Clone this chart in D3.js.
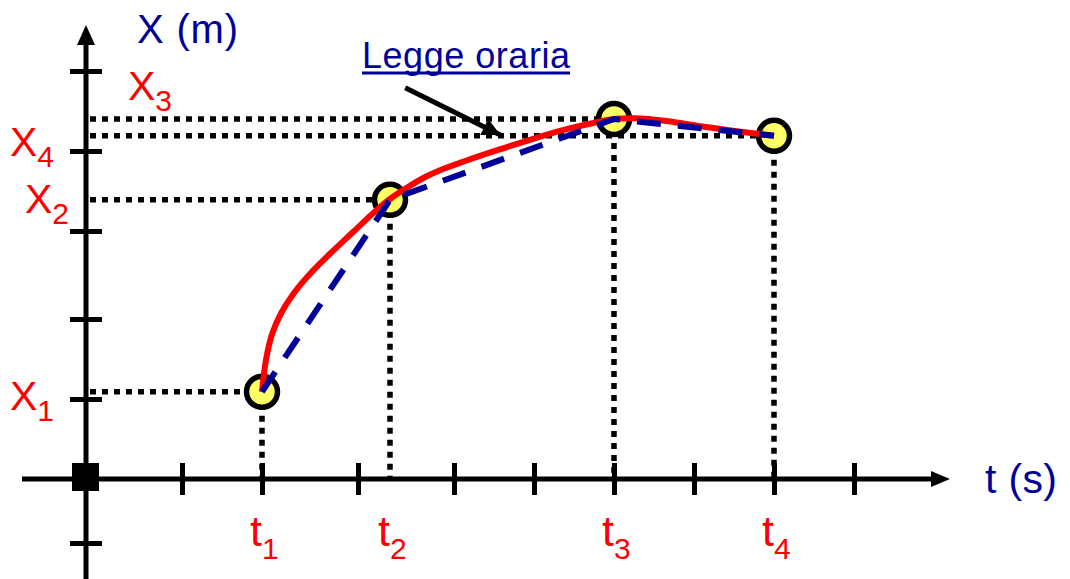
<!DOCTYPE html>
<html>
<head>
<meta charset="utf-8">
<script src="https://cdn.jsdelivr.net/npm/d3@7"></script>
<style>
  html, body { margin: 0; padding: 0; background: #fff; }
  svg { display: block; }
</style>
</head>
<body>
<script>
// 数据（时间单位 / 位置单位均为图上读出的估计值）
const xTicks = [12, 22, 34, 46, 56, 66, 76, 86, 96];
const yTicks = [-8, 10, 20, 31, 41, 51];

const pointT = [22, 38, 66, 86];            // t1..t4
const pointX = [10.9, 34.9, 45, 42.9];      // X1..X4
const tNames = ["1", "2", "3", "4"];

// 红色曲线（legge oraria）上读取的点
const curveT = [22, 22.5, 23.25, 24.4, 26, 28.1, 30.6, 33.25, 35.75, 38, 40.25, 42.4, 44.25, 47.4, 51.4, 55.5, 59.6, 63.4, 66, 68.6, 72.6, 76.75, 81.1, 86];
const curveX = [10.9, 14.9, 18.1, 20.75, 23.25, 25.75, 28.25, 30.75, 33.1, 35, 36.5, 37.75, 38.6, 39.75, 41.1, 42.4, 43.6, 44.5, 45, 45.1, 44.75, 44.1, 43.5, 42.9];

const width = 1070, height = 579;
const red = "#ff0000", blue = "#000099";

const x = d3.scaleLinear().domain([0, 108]).range([86, 950]);
const y = d3.scaleLinear().domain([0, 56.75]).range([479, 25]);

const svg = d3.select("body").append("svg")
  .attr("width", width)
  .attr("height", height)
  .style("font-family", "'Liberation Sans', Arial, sans-serif");

const defs = svg.append("defs");
defs.append("marker")
  .attr("id", "head")
  .attr("viewBox", "0 0 10 10")
  .attr("refX", 10).attr("refY", 5)
  .attr("markerUnits", "userSpaceOnUse")
  .attr("markerWidth", 20).attr("markerHeight", 18)
  .attr("orient", "auto")
  .append("path").attr("d", "M0,0L10,5L0,10Z").attr("fill", "#000");

// 辅助虚线（点线）
const dots = svg.append("g")
  .attr("stroke", "#000")
  .attr("stroke-width", 5.5)
  .attr("stroke-dasharray", "6,6");

pointT.forEach((t, i) => {
  dots.append("line")
    .attr("x1", x(0) + 4).attr("x2", x(t))
    .attr("y1", y(pointX[i])).attr("y2", y(pointX[i]));
  dots.append("line")
    .attr("x1", x(t)).attr("x2", x(t))
    .attr("y1", y(pointX[i])).attr("y2", y(0));
});

// 坐标轴主线
svg.append("line")
  .attr("x1", x(-8)).attr("x2", x(106))
  .attr("y1", y(0)).attr("y2", y(0))
  .attr("stroke", "#000").attr("stroke-width", 5);
svg.append("path")
  .attr("d", `M${x(106) - 3},${y(0) - 8}L${x(108)},${y(0)}L${x(106) - 3},${y(0) + 8}Z`)
  .attr("fill", "#000");

svg.append("line")
  .attr("x1", x(0)).attr("x2", x(0))
  .attr("y1", height).attr("y2", y(54.5))
  .attr("stroke", "#000").attr("stroke-width", 5);
svg.append("path")
  .attr("d", `M${x(0) - 9},${y(54.5) + 2}L${x(0)},${y(56.75)}L${x(0) + 9},${y(54.5) + 2}Z`)
  .attr("fill", "#000");

// 刻度（用 d3 axis 生成，再把刻度线改成穿过轴线）
const gx = svg.append("g")
  .attr("transform", `translate(0,${y(0)})`)
  .call(d3.axisBottom(x).tickValues(xTicks).tickSize(16).tickFormat(""));
gx.select(".domain").remove();
gx.selectAll(".tick line").attr("y1", -16).attr("stroke", "#000").attr("stroke-width", 5);

const gy = svg.append("g")
  .attr("transform", `translate(${x(0)},0)`)
  .call(d3.axisLeft(y).tickValues(yTicks).tickSize(16).tickFormat(""));
gy.select(".domain").remove();
gy.selectAll(".tick line").attr("x1", 16).attr("stroke", "#000").attr("stroke-width", 5);

// 原点方块
svg.append("rect")
  .attr("x", x(0) - 14).attr("y", y(0) - 16)
  .attr("width", 27).attr("height", 28)
  .attr("fill", "#000");

// 数据点
svg.append("g")
  .selectAll("circle")
  .data(pointT)
  .join("circle")
  .attr("cx", d => x(d))
  .attr("cy", (d, i) => y(pointX[i]))
  .attr("r", 15.5)
  .attr("fill", "#ffff66")
  .attr("stroke", "#000")
  .attr("stroke-width", 5.5);

// 红色曲线
const curvePts = curveT.map((t, i) => [t, curveX[i]]);
svg.append("path")
  .datum(curvePts)
  .attr("fill", "none")
  .attr("stroke", red)
  .attr("stroke-width", 6)
  .attr("stroke-linejoin", "round")
  .attr("d", d3.line().x(d => x(d[0])).y(d => y(d[1])).curve(d3.curveCatmullRom.alpha(0.5)));

// 蓝色折线（虚线）
svg.append("path")
  .datum(pointT.map((t, i) => [t, pointX[i]]))
  .attr("fill", "none")
  .attr("stroke", blue)
  .attr("stroke-width", 6)
  .attr("stroke-dasharray", "24,17")
  .attr("d", d3.line().x(d => x(d[0])).y(d => y(d[1])));

// 注释箭头 + 文本
svg.append("line")
  .attr("x1", x(39.9)).attr("y1", y(48.9))
  .attr("x2", x(51.8)).attr("y2", y(43.0))
  .attr("stroke", "#000").attr("stroke-width", 5)
  .attr("marker-end", "url(#head)");

svg.append("text")
  .attr("x", 362).attr("y", 68)
  .attr("fill", blue)
  .attr("font-size", 36)
  .attr("textLength", 208)
  .text("Legge oraria");
svg.append("line")
  .attr("x1", 362).attr("x2", 570)
  .attr("y1", 73).attr("y2", 73)
  .attr("stroke", blue).attr("stroke-width", 3);

// 轴标题
svg.append("text")
  .attr("x", 137).attr("y", 43)
  .attr("fill", blue).attr("font-size", 40)
  .attr("textLength", 101)
  .text("X (m)");
svg.append("text")
  .attr("x", 985).attr("y", 493)
  .attr("fill", blue).attr("font-size", 41)
  .attr("textLength", 72)
  .text("t (s)");

// X 标签（红色，带下标）
const xLabelPos = [[10, 18], [25, 13], [128, -19], [10, 20]]; // [x 像素, 基线相对偏移]
pointX.forEach((v, i) => {
  const t = svg.append("text")
    .attr("x", xLabelPos[i][0])
    .attr("y", y(v) + xLabelPos[i][1])
    .attr("fill", red).attr("font-size", 41);
  t.append("tspan").text("X");
  t.append("tspan").attr("font-size", 30).attr("dy", 11).text(tNames[i]);
});

// t 标签
pointT.forEach((v, i) => {
  const t = svg.append("text")
    .attr("x", x(v) - 12)
    .attr("y", 546)
    .attr("fill", red).attr("font-size", 43);
  t.append("tspan").text("t");
  t.append("tspan").attr("font-size", 30).attr("dy", 13).text(tNames[i]);
});
</script>
</body>
</html>
